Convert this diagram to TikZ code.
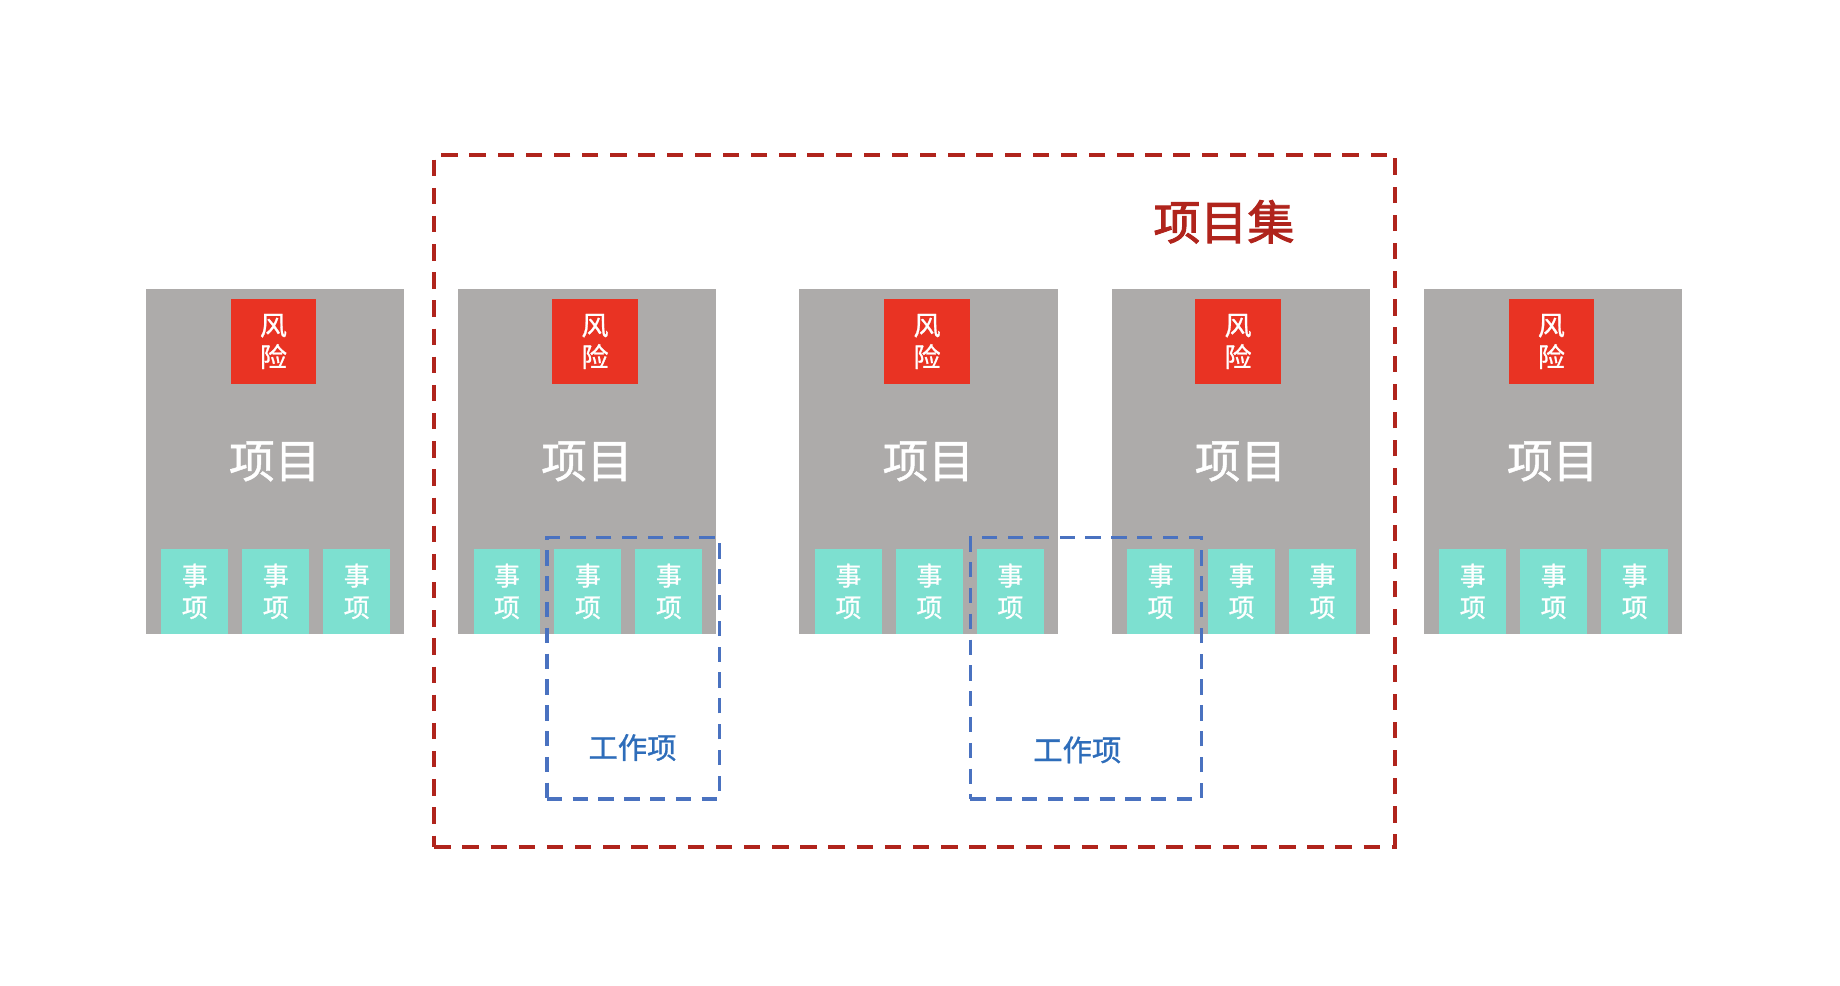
\documentclass[tikz,border=0pt]{standalone}
\usepackage{fontspec}
\setmainfont{Noto Sans CJK SC}
\newfontfamily\medfont{Noto Sans CJK SC}[FakeBold=1]
\newfontfamily\titlefont{Noto Sans CJK SC}[FakeBold=2]
\usepackage{tikz}
\usetikzlibrary{positioning}
\definecolor{projgray}{HTML}{ADABAA}
\definecolor{riskred}{HTML}{E93323}
\definecolor{itemteal}{HTML}{7DE0D0}
\definecolor{setred}{HTML}{B0241C}
\definecolor{workblue}{HTML}{4A72C0}
\definecolor{worktext}{HTML}{2E6DBA}
\tikzset{
    project/.style={fill=projgray, draw=none, minimum width=220pt, minimum height=294pt, inner sep=0pt, anchor=north west},
    risk/.style={fill=riskred, text=white, minimum width=73pt, minimum height=72pt, inner sep=0pt, align=center,
        font=\medfont\fontsize{23}{27}\selectfont},
    item/.style={fill=itemteal, text=white, minimum width=57pt, minimum height=72pt, inner sep=0pt, align=center,
        font=\medfont\fontsize{22}{27}\selectfont},
    projlabel/.style={text=white, inner sep=0pt, font=\medfont\fontsize{39}{39}\selectfont},
    portfolio/.style={draw=setred, line width=3.2pt, dash pattern=on 14pt off 10pt, inner sep=0pt},
    workitem/.style={draw=workblue, line width=3pt, dash pattern=on 13pt off 9pt, inner sep=0pt},
    worklabel/.style={text=worktext, inner sep=0pt, font=\medfont\fontsize{25}{25}\selectfont},
}
\begin{document}
\begin{tikzpicture}[x=1pt,y=-1pt]
	\useasboundingbox (0,0) rectangle (1568,840);
	% projects
	\foreach \i/\x/\r in {1/124/109,2/390/117,3/681/109,4/947/108,5/1213/109} {
		\node[project] (proj\i) at (\x,246) {};
		\node[risk] (risk\i) at (\x+\r,291) {风\\险};
		\node[projlabel] (name\i) at (proj\i.center) {项目};
		\foreach \j/\dx in {1/42,2/111,3/180}
			\node[item] (item\i\j) at (\x+\dx,504) {事\\项};
	}
	% project set
	\node[portfolio, minimum width=819pt, minimum height=590pt] (set) at (779.5,427) {};
	\node[text=setred, inner sep=0pt, font=\titlefont\fontsize{40}{40}\selectfont] (settitle) at (1043,189) {项目集};
	% work items
	\node[workitem, minimum width=147pt, minimum height=223pt] (work1) at (539.5,569.5) {};
	\node[workitem, minimum width=197pt, minimum height=223pt] (work2) at (925.5,569.5) {};
	\node[worklabel] (worklabel1) at (539,637) {工作项};
	\node[worklabel] (worklabel2) at (918,639) {工作项};
\end{tikzpicture}
\end{document}
